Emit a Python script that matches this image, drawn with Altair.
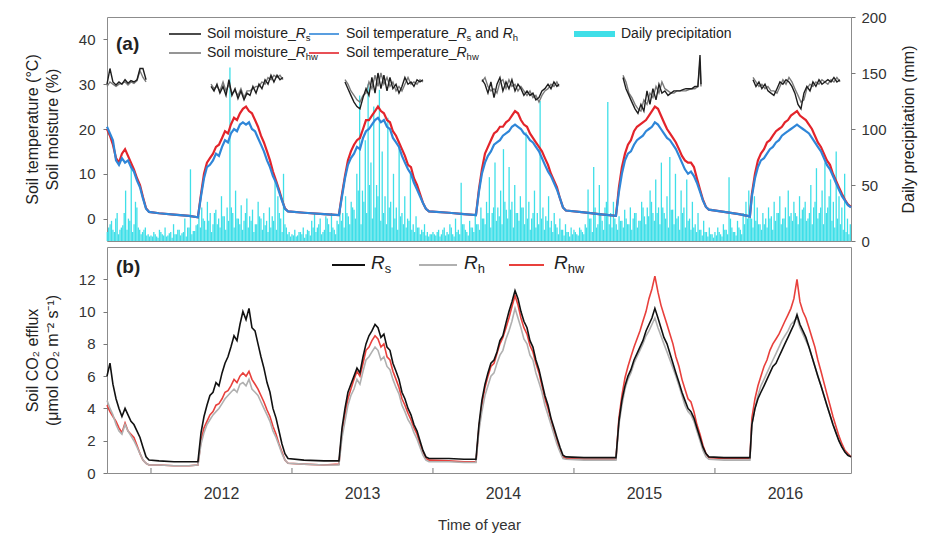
import altair as alt
import pandas as pd

FONT = "Liberation Sans"

# ---------------- data (decimal year) ----------------
temp_t = [
    2011.688, 2011.709, 2011.730, 2011.752, 2011.773, 2011.794, 2011.816, 2011.837, 2011.858, 2011.879,
    2011.901, 2011.922, 2011.943, 2011.965, 2011.986, 2012.057, 2012.163, 2012.270, 2012.333,
    2012.355, 2012.376, 2012.397, 2012.418, 2012.440, 2012.461, 2012.482, 2012.504, 2012.525, 2012.546,
    2012.567, 2012.589, 2012.610, 2012.631, 2012.652, 2012.674, 2012.695, 2012.716, 2012.738, 2012.759,
    2012.780, 2012.801, 2012.823, 2012.844, 2012.865, 2012.887, 2012.908, 2012.929, 2012.950, 2012.972,
    2013.085, 2013.227, 2013.333,
    2013.355, 2013.376, 2013.397, 2013.418, 2013.440, 2013.461, 2013.482, 2013.504, 2013.525, 2013.546,
    2013.567, 2013.589, 2013.610, 2013.631, 2013.652, 2013.674, 2013.695, 2013.716, 2013.738, 2013.759,
    2013.780, 2013.801, 2013.823, 2013.844, 2013.865, 2013.887, 2013.908, 2013.929, 2013.950, 2013.972,
    2014.113, 2014.220, 2014.305,
    2014.326, 2014.347, 2014.369, 2014.390, 2014.411, 2014.433, 2014.454, 2014.475, 2014.496, 2014.518,
    2014.539, 2014.560, 2014.582, 2014.603, 2014.624, 2014.645, 2014.667, 2014.688, 2014.709, 2014.730,
    2014.752, 2014.773, 2014.794, 2014.816, 2014.837, 2014.858, 2014.879, 2014.901, 2014.922, 2014.943,
    2015.071, 2015.177, 2015.298,
    2015.319, 2015.340, 2015.362, 2015.383, 2015.404, 2015.426, 2015.447, 2015.468, 2015.489, 2015.511,
    2015.532, 2015.553, 2015.574, 2015.596, 2015.617, 2015.638, 2015.660, 2015.681, 2015.702, 2015.723,
    2015.745, 2015.766, 2015.787, 2015.809, 2015.830, 2015.851, 2015.872, 2015.894, 2015.915, 2015.936,
    2015.957, 2016.064, 2016.170, 2016.248,
    2016.262, 2016.284, 2016.305, 2016.326, 2016.348, 2016.369, 2016.390, 2016.411, 2016.433, 2016.454,
    2016.475, 2016.496, 2016.518, 2016.539, 2016.560, 2016.582, 2016.603, 2016.624, 2016.645, 2016.667,
    2016.688, 2016.709, 2016.730, 2016.752, 2016.773, 2016.794, 2016.816, 2016.837, 2016.858, 2016.879,
    2016.901, 2016.922, 2016.943, 2016.965,
]

# Soil temperature_Rs and Rh (blue)
temp_rs = [
    20.5, 19, 17.5, 13, 12, 13.5, 12.5, 13, 11.5, 10.5, 8.5, 7, 4.5, 2.2, 1.5, 1.2, 0.9, 0.6, 0.3,
    5, 9, 11.5, 12, 13, 14.5, 14, 16, 17.5, 17, 19, 20, 19.5, 21, 21.5, 21, 21.5, 20, 19.5, 18,
    16.5, 15, 13, 11.5, 9.5, 8, 6, 4, 2.2, 1.6, 1.3, 1.0, 0.8,
    5, 9, 12, 13.5, 14.5, 16, 15.5, 18, 19.5, 20, 21, 22, 22.5, 21.5, 22, 20.5, 20, 18, 17, 16,
    14, 12.5, 11, 10, 8, 6.5, 5, 3.5, 2.2, 1.6, 1.3, 1.0, 0.8,
    6, 10, 12.5, 14, 15, 16.5, 17, 17.5, 18.5, 19, 19.5, 20.5, 21, 20.5, 20, 19, 18.5, 17.5, 17, 16,
    15, 13.5, 12, 10.5, 9.5, 8, 6.5, 4.5, 2.5, 1.8, 1.4, 1.0, 0.6,
    6, 10, 13, 14.5, 15, 16.5, 17.5, 18, 18.5, 19.5, 20, 20.5, 21.5, 21, 20, 19, 18, 17.5, 16.5, 15.5,
    14, 12.5, 11, 10, 10.5, 9.5, 8, 6, 4, 2.6, 2.0, 1.5, 1.0, 0.5,
    5, 9, 11.5, 13, 13.5, 14.5, 15.5, 16, 17, 17.5, 18.5, 19, 19.5, 20, 20.5, 21, 20.5, 20, 19.5, 19,
    18, 17, 16, 15, 13.5, 12, 11, 9.5, 8, 6.5, 5, 4, 3, 2.5,
]
# Soil temperature_Rhw (red)
temp_rhw = [
    20, 18.5, 16.5, 13.5, 12.5, 14.5, 15.5, 14, 12.5, 11, 9, 7.5, 4.8, 2.3, 1.5, 1.2, 0.9, 0.6, 0.3,
    5.5, 10, 12.5, 13.5, 14.5, 16, 16.5, 18, 19.5, 19, 21, 22.5, 22, 23.5, 24.5, 25, 24, 23.5, 22, 20.5,
    18.5, 17, 15, 13, 10.5, 8.5, 6.5, 4.2, 2.3, 1.6, 1.3, 1.0, 0.8,
    5.5, 9.5, 13, 15, 16.5, 17.5, 18, 20, 22, 22, 23, 24, 25, 24, 23.5, 22, 21.5, 19.5, 18.5, 17,
    15.5, 14, 12, 11.5, 9, 7.5, 5.5, 3.5, 2.2, 1.6, 1.3, 1.0, 0.8,
    6.5, 11, 14.5, 16, 17.5, 19, 19.5, 20.5, 20.5, 21.5, 22, 23, 24, 23.5, 22, 21, 20.5, 19, 18, 17,
    16, 15, 13.5, 12, 10, 8.5, 7, 4.5, 2.5, 1.8, 1.4, 1.0, 0.6,
    7, 11.5, 14.5, 16.5, 17.5, 19.5, 20.5, 21, 21.5, 22, 23, 24, 25, 24.5, 23, 21.5, 20, 19, 18, 17,
    15.5, 14, 13, 12.5, 12.5, 11.5, 9, 6.5, 4.2, 2.6, 2.0, 1.5, 1.0, 0.5,
    5.5, 10, 13, 14.5, 15.5, 17, 17.5, 18.5, 19.5, 20, 20.5, 21.5, 22, 23, 23.5, 24, 23, 22.5, 22, 21,
    20, 18.5, 17, 16, 14.5, 13, 12, 10, 8.5, 7, 5.5, 4.2, 3.2, 2.6,
]

# Soil CO2 efflux (same dates)
flux_rs = [
    6.0, 6.8, 5.5, 4.6, 4.0, 3.5, 4.0, 3.6, 3.2, 3.0, 2.6, 2.2, 1.6, 1.0, 0.8, 0.75, 0.7, 0.7, 0.7,
    2.5, 3.5, 4.2, 4.8, 5.0, 5.6, 5.4, 6.2, 6.8, 7.2, 7.8, 8.5, 8.2, 9.2, 10.0, 9.5, 10.2, 9.0, 8.8, 8.0,
    7.2, 6.5, 5.6, 5.0, 4.0, 3.4, 2.6, 1.8, 1.2, 0.9, 0.8, 0.75, 0.75,
    2.8, 4.0, 5.0, 5.5, 6.0, 6.5, 6.2, 7.2, 8.0, 8.5, 8.8, 9.2, 9.0, 8.4, 8.6, 7.8, 7.6, 6.8, 6.3, 5.8,
    5.0, 4.6, 4.0, 3.6, 3.0, 2.6, 2.0, 1.4, 1.0, 0.9, 0.9, 0.85, 0.85,
    3.0, 4.5, 5.5, 6.2, 6.8, 7.0, 7.5, 8.2, 8.5, 9.3, 10.0, 10.6, 11.3, 10.8, 10.0, 9.4, 9.0, 8.2, 7.8, 7.0,
    6.4, 5.6, 4.8, 4.2, 3.4, 2.8, 2.2, 1.6, 1.1, 1.0, 0.95, 0.95, 0.95,
    3.2, 4.5, 5.4, 6.0, 6.4, 7.0, 7.4, 7.8, 8.2, 8.8, 9.2, 9.6, 10.2, 9.6, 9.0, 8.4, 8.0, 7.4, 6.8, 6.2,
    5.6, 5.0, 4.5, 4.0, 3.8, 3.4, 2.8, 2.2, 1.6, 1.2, 1.0, 0.95, 0.95, 0.95,
    3.0, 4.0, 4.6, 5.0, 5.4, 5.8, 6.2, 6.6, 6.8, 7.2, 7.6, 8.0, 8.4, 8.8, 9.2, 9.8, 9.2, 8.8, 8.4, 7.8,
    7.2, 6.6, 6.0, 5.4, 4.8, 4.2, 3.6, 3.0, 2.5, 2.0, 1.6, 1.3, 1.1, 1.0,
]
flux_rh = [
    4.5, 4.0, 3.6, 3.0, 2.6, 2.4, 3.0, 2.6, 2.3, 2.0, 1.6, 1.2, 0.8, 0.6, 0.5, 0.5, 0.45, 0.45, 0.5,
    1.8, 2.5, 3.0, 3.3, 3.6, 3.8, 4.0, 4.3, 4.6, 4.8, 5.0, 5.2, 5.0, 5.5, 5.6, 5.4, 5.8, 5.2, 5.0, 4.8,
    4.4, 4.0, 3.6, 3.2, 2.6, 2.2, 1.7, 1.2, 0.8, 0.6, 0.55, 0.5, 0.5,
    2.2, 3.2, 4.2, 4.8, 5.2, 5.8, 5.5, 6.3, 7.0, 7.2, 7.5, 7.8, 7.6, 7.0, 7.2, 6.6, 6.4, 5.8, 5.3, 4.9,
    4.2, 3.8, 3.3, 3.0, 2.5, 2.1, 1.6, 1.1, 0.8, 0.7, 0.7, 0.65, 0.65,
    2.6, 3.8, 4.8, 5.4, 6.0, 6.2, 6.8, 7.3, 7.6, 8.3, 8.8, 9.4, 10.2, 9.6, 9.0, 8.3, 8.0, 7.3, 7.0, 6.2,
    5.6, 5.0, 4.2, 3.6, 3.0, 2.4, 1.8, 1.3, 0.9, 0.85, 0.8, 0.8, 0.8,
    3.0, 4.2, 5.2, 5.8, 6.2, 6.8, 7.2, 7.6, 8.0, 8.5, 8.8, 9.2, 9.6, 9.0, 8.5, 8.0, 7.5, 7.0, 6.5, 6.0,
    5.4, 4.8, 4.2, 3.8, 3.6, 3.2, 2.6, 2.0, 1.4, 1.0, 0.85, 0.8, 0.8, 0.8,
    3.0, 4.0, 4.8, 5.4, 5.8, 6.2, 6.6, 7.0, 7.4, 7.8, 8.2, 8.5, 8.8, 9.2, 9.4, 9.6, 9.0, 8.6, 8.2, 7.8,
    7.2, 6.6, 6.0, 5.4, 4.8, 4.2, 3.6, 3.0, 2.5, 2.0, 1.6, 1.3, 1.1, 1.0,
]
flux_rhw = [
    4.2, 3.8, 3.5, 3.2, 2.8, 2.5, 3.1, 2.6, 2.4, 2.2, 1.7, 1.2, 0.8, 0.6, 0.5, 0.5, 0.45, 0.45, 0.5,
    2.0, 2.8, 3.2, 3.6, 3.8, 4.2, 4.3, 4.6, 5.0, 5.1, 5.4, 5.8, 5.6, 6.0, 6.2, 6.0, 6.3, 5.8, 5.5, 5.2,
    4.8, 4.4, 3.9, 3.5, 2.9, 2.4, 1.8, 1.3, 0.8, 0.6, 0.55, 0.5, 0.55,
    2.5, 3.6, 4.6, 5.2, 5.8, 6.3, 6.0, 6.8, 7.6, 7.8, 8.2, 8.5, 8.3, 7.8, 8.0, 7.2, 7.0, 6.3, 5.8, 5.3,
    4.6, 4.2, 3.7, 3.3, 2.8, 2.4, 1.8, 1.3, 0.9, 0.8, 0.75, 0.7, 0.7,
    2.8, 4.2, 5.3, 6.0, 6.6, 6.8, 7.4, 8.0, 8.4, 9.0, 9.6, 10.3, 11.0, 10.4, 9.6, 9.0, 8.6, 7.9, 7.5, 6.8,
    6.2, 5.4, 4.6, 4.0, 3.3, 2.6, 2.0, 1.4, 1.0, 0.9, 0.85, 0.85, 0.85,
    3.4, 4.8, 5.9, 6.6, 7.2, 7.8, 8.3, 8.8, 9.4, 10.0, 10.8, 11.4, 12.2, 11.2, 10.4, 9.8, 9.2, 8.6, 8.0, 7.2,
    6.6, 5.8, 5.2, 4.6, 4.4, 3.8, 3.0, 2.4, 1.7, 1.2, 0.95, 0.9, 0.9, 0.9,
    3.4, 4.6, 5.4, 6.0, 6.6, 7.0, 7.6, 8.0, 8.3, 8.6, 9.0, 9.4, 9.8, 10.2, 10.8, 12.0, 10.6, 10.0, 9.6, 9.0,
    8.4, 7.8, 7.0, 6.3, 5.6, 4.9, 4.2, 3.5, 2.9, 2.3, 1.8, 1.4, 1.2, 1.0,
]

# Soil moisture, growing-season segments
moist_t = [
    [2011.688, 2011.709, 2011.730, 2011.752, 2011.773, 2011.794, 2011.816, 2011.837, 2011.858, 2011.879,
     2011.901, 2011.922, 2011.943, 2011.965],
    [2012.426, 2012.447, 2012.468, 2012.489, 2012.511, 2012.532, 2012.553, 2012.574, 2012.596, 2012.617,
     2012.638, 2012.660, 2012.681, 2012.702, 2012.723, 2012.745, 2012.766, 2012.787, 2012.809, 2012.830,
     2012.851, 2012.872, 2012.894, 2012.915, 2012.936],
    [2013.376, 2013.397, 2013.418, 2013.440, 2013.461, 2013.482, 2013.504, 2013.525, 2013.546, 2013.567,
     2013.589, 2013.610, 2013.631, 2013.652, 2013.674, 2013.695, 2013.716, 2013.738, 2013.759, 2013.780,
     2013.801, 2013.823, 2013.844, 2013.865, 2013.887, 2013.908, 2013.929],
    [2014.348, 2014.369, 2014.390, 2014.411, 2014.433, 2014.454, 2014.475, 2014.496, 2014.518, 2014.539,
     2014.560, 2014.582, 2014.603, 2014.624, 2014.645, 2014.667, 2014.688, 2014.709, 2014.730, 2014.752,
     2014.773, 2014.794, 2014.816, 2014.837, 2014.858, 2014.879, 2014.894],
    [2015.348, 2015.369, 2015.390, 2015.411, 2015.433, 2015.454, 2015.475, 2015.496, 2015.518, 2015.539,
     2015.560, 2015.582, 2015.603, 2015.624, 2015.645, 2015.667, 2015.688, 2015.709, 2015.730, 2015.752,
     2015.773, 2015.794, 2015.816, 2015.837, 2015.858, 2015.879, 2015.894, 2015.901],
    [2016.270, 2016.291, 2016.312, 2016.333, 2016.355, 2016.376, 2016.397, 2016.418, 2016.440, 2016.461,
     2016.482, 2016.504, 2016.525, 2016.546, 2016.567, 2016.589, 2016.610, 2016.631, 2016.652, 2016.674,
     2016.695, 2016.716, 2016.738, 2016.759, 2016.780, 2016.801, 2016.823, 2016.844, 2016.865, 2016.887],
]
moist_rs = [
    [30.0, 33.5, 30.5, 29.8, 30.5, 30.0, 31.0, 30.2, 30.8, 30.5, 31.0, 33.5, 33.5, 31.0],
    [29.5, 28.5, 30.0, 28.0, 29.5, 27.5, 31.0, 27.5, 29.0, 26.8, 28.5, 26.5, 28.0, 27.5, 29.5, 28.0,
     30.0, 29.0, 31.0, 30.0, 32.0, 30.5, 32.0, 31.0, 31.5],
    [30.5, 29.0, 27.5, 26.0, 25.0, 24.5, 27.0, 29.0, 27.5, 31.5, 28.0, 32.5, 29.0, 32.0, 28.5, 31.5,
     29.0, 30.0, 28.0, 29.5, 31.5, 30.0, 30.5, 29.5, 31.0, 30.5, 31.0],
    [31.0, 30.0, 28.0, 30.5, 27.0, 30.0, 31.5, 28.5, 30.5, 29.0, 31.0, 28.5, 30.0, 29.0, 27.5, 28.5,
     27.5, 28.0, 26.5, 27.0, 28.5, 29.0, 30.0, 29.0, 30.5, 29.5, 30.0],
    [31.5, 29.0, 27.5, 26.0, 24.5, 23.5, 25.5, 24.0, 28.5, 25.5, 29.0, 26.5, 30.0, 28.0, 28.5, 27.5,
     28.0, 28.5, 28.5, 28.5, 28.8, 29.0, 29.0, 29.0, 29.5, 29.5, 36.5, 30.0],
    [31.0, 29.5, 30.5, 29.0, 30.0, 28.5, 28.0, 27.5, 29.0, 30.5, 30.0, 31.0, 30.5, 29.5, 28.0, 25.5,
     24.5, 28.0, 29.5, 28.5, 30.5, 29.5, 31.0, 30.0, 30.5, 31.0, 30.5, 31.5, 30.5, 31.0],
]
moist_rhw = [
    [29.5, 30.5, 30.0, 29.5, 30.0, 30.2, 30.5, 29.8, 30.5, 30.2, 30.8, 33.0, 31.5, 30.5],
    [30.0, 29.0, 29.5, 28.5, 30.5, 28.5, 30.0, 28.0, 28.5, 27.5, 29.0, 27.0, 28.5, 28.5, 29.0, 29.5,
     29.5, 30.5, 30.0, 31.5, 31.0, 32.0, 31.5, 32.0, 31.0],
    [31.0, 30.0, 28.5, 27.5, 26.5, 26.0, 27.5, 28.0, 30.5, 29.0, 32.0, 29.5, 32.5, 30.0, 31.5, 29.5,
     30.5, 28.5, 29.5, 28.5, 30.0, 31.5, 30.0, 30.5, 30.0, 31.0, 30.5],
    [30.5, 31.5, 29.5, 28.5, 29.0, 28.0, 30.5, 31.0, 29.0, 31.0, 29.5, 30.0, 28.5, 29.5, 28.5, 27.5,
     28.5, 27.0, 27.5, 26.0, 27.5, 28.5, 29.0, 30.0, 29.5, 30.5, 29.5],
    [32.0, 30.5, 28.0, 27.0, 25.5, 24.5, 24.0, 26.5, 25.5, 28.0, 27.0, 29.5, 28.0, 30.5, 29.0, 28.5,
     28.0, 28.0, 28.5, 28.5, 28.5, 28.5, 28.8, 29.0, 29.0, 29.5, 35.0, 29.5],
    [31.5, 30.5, 29.5, 30.0, 29.0, 29.5, 28.5, 28.5, 28.0, 29.5, 31.0, 30.0, 31.5, 30.5, 29.0, 27.5,
     26.0, 26.5, 29.0, 30.0, 29.5, 30.5, 30.0, 31.0, 30.5, 30.0, 31.0, 30.5, 31.5, 30.5],
]

# Daily precipitation (mm), sampled days (two interleaved sets of days)
precip_t = [
    2011.70, 2011.72, 2011.74, 2011.76, 2011.78, 2011.80, 2011.82, 2011.84, 2011.86, 2011.88,
    2011.90, 2011.92, 2011.94, 2011.96, 2011.98,
    2012.00, 2012.02, 2012.04, 2012.06, 2012.08, 2012.10, 2012.12, 2012.14, 2012.16, 2012.18,
    2012.20, 2012.22, 2012.24, 2012.26, 2012.28, 2012.30, 2012.32, 2012.34, 2012.36, 2012.38,
    2012.40, 2012.42, 2012.44, 2012.46, 2012.48, 2012.50, 2012.52, 2012.54, 2012.56, 2012.58,
    2012.60, 2012.62, 2012.64, 2012.66, 2012.68, 2012.70, 2012.72, 2012.74, 2012.76, 2012.78,
    2012.80, 2012.82, 2012.84, 2012.86, 2012.88, 2012.90, 2012.92, 2012.94, 2012.96, 2012.98,
    2013.00, 2013.02, 2013.04, 2013.06, 2013.08, 2013.10, 2013.12, 2013.14, 2013.16, 2013.18,
    2013.20, 2013.22, 2013.24, 2013.26, 2013.28, 2013.30, 2013.32, 2013.34, 2013.36, 2013.38,
    2013.40, 2013.42, 2013.44, 2013.46, 2013.48, 2013.50, 2013.52, 2013.54, 2013.56, 2013.58,
    2013.60, 2013.62, 2013.64, 2013.66, 2013.68, 2013.70, 2013.72, 2013.74, 2013.76, 2013.78,
    2013.80, 2013.82, 2013.84, 2013.86, 2013.88, 2013.90, 2013.92, 2013.94, 2013.96, 2013.98,
    2014.00, 2014.02, 2014.04, 2014.06, 2014.08, 2014.10, 2014.12, 2014.14, 2014.16, 2014.18,
    2014.20, 2014.22, 2014.24, 2014.26, 2014.28, 2014.30, 2014.32, 2014.34, 2014.36, 2014.38,
    2014.40, 2014.42, 2014.44, 2014.46, 2014.48, 2014.50, 2014.52, 2014.54, 2014.56, 2014.58,
    2014.60, 2014.62, 2014.64, 2014.66, 2014.68, 2014.70, 2014.72, 2014.74, 2014.76, 2014.78,
    2014.80, 2014.82, 2014.84, 2014.86, 2014.88, 2014.90, 2014.92, 2014.94, 2014.96, 2014.98,
    2015.00, 2015.02, 2015.04, 2015.06, 2015.08, 2015.10, 2015.12, 2015.14, 2015.16, 2015.18,
    2015.20, 2015.22, 2015.24, 2015.26, 2015.28, 2015.30, 2015.32, 2015.34, 2015.36, 2015.38,
    2015.40, 2015.42, 2015.44, 2015.46, 2015.48, 2015.50, 2015.52, 2015.54, 2015.56, 2015.58,
    2015.60, 2015.62, 2015.64, 2015.66, 2015.68, 2015.70, 2015.72, 2015.74, 2015.76, 2015.78,
    2015.80, 2015.82, 2015.84, 2015.86, 2015.88, 2015.90, 2015.92, 2015.94, 2015.96, 2015.98,
    2016.00, 2016.02, 2016.04, 2016.06, 2016.08, 2016.10, 2016.12, 2016.14, 2016.16, 2016.18,
    2016.20, 2016.22, 2016.24, 2016.26, 2016.28, 2016.30, 2016.32, 2016.34, 2016.36, 2016.38,
    2016.40, 2016.42, 2016.44, 2016.46, 2016.48, 2016.50, 2016.52, 2016.54, 2016.56, 2016.58,
    2016.60, 2016.62, 2016.64, 2016.66, 2016.68, 2016.70, 2016.72, 2016.74, 2016.76, 2016.78,
    2016.80, 2016.82, 2016.84, 2016.86, 2016.88, 2016.90, 2016.92, 2016.94, 2016.96,
]
precip_mm = [
    12, 18, 8, 25, 10, 14, 45, 20, 70, 15, 30, 10, 8, 12, 6,
    5, 8, 4, 10, 6, 12, 5, 8, 15, 6, 10, 7, 20, 12, 64, 9, 14, 22, 30, 18,
    35, 25, 15, 28, 20, 40, 22, 30, 155, 25, 45, 20, 32, 18, 38, 22, 28, 15, 35, 20,
    25, 18, 30, 22, 55, 40, 20, 60, 12, 8,
    6, 10, 5, 8, 12, 6, 9, 18, 25, 12, 20, 8, 22, 15, 25, 10, 18, 30, 25, 40,
    22, 35, 28, 60, 130, 45, 90, 140, 70, 120, 50, 135, 80, 40, 110, 35, 60, 30, 85, 25,
    40, 20, 60, 15, 22, 12, 10, 15, 8, 6,
    8, 5, 10, 6, 12, 8, 15, 6, 20, 10, 52, 15, 8, 18, 12, 25, 15, 30, 20, 35,
    57, 25, 70, 30, 45, 82, 28, 66, 35, 50, 25, 40, 30, 97, 35, 20, 45, 25, 125, 30,
    22, 40, 18, 25, 12, 20, 10, 15, 8, 12,
    10, 6, 12, 8, 15, 46, 20, 66, 12, 50, 18, 30, 124, 25, 35, 15, 22, 18, 28, 15,
    30, 20, 25, 18, 35, 22, 30, 45, 25, 55, 30, 70, 25, 40, 75, 28, 60, 22, 45, 30,
    55, 20, 35, 15, 25, 10, 18, 8, 12, 6,
    8, 12, 6, 15, 10, 57, 12, 8, 18, 10, 25, 35, 45, 20, 40, 30, 15, 25, 20, 30,
    22, 35, 25, 40, 20, 30, 45, 25, 35, 22, 40, 28, 35, 20, 50, 30, 65, 25, 45, 70,
    30, 55, 35, 80, 40, 30, 60, 20, 15,
]
precip_t2 = [
    2011.69, 2011.71, 2011.73, 2011.75, 2011.77, 2011.79, 2011.81, 2011.83, 2011.85, 2011.87,
    2011.89, 2011.91, 2011.93, 2011.95, 2011.97, 2011.99,
    2012.01, 2012.03, 2012.05, 2012.07, 2012.09, 2012.11, 2012.13, 2012.15, 2012.17, 2012.19,
    2012.21, 2012.23, 2012.25, 2012.27, 2012.29, 2012.31, 2012.33, 2012.35, 2012.37, 2012.39,
    2012.41, 2012.43, 2012.45, 2012.47, 2012.49, 2012.51, 2012.53, 2012.55, 2012.57, 2012.59,
    2012.61, 2012.63, 2012.65, 2012.67, 2012.69, 2012.71, 2012.73, 2012.75, 2012.77, 2012.79,
    2012.81, 2012.83, 2012.85, 2012.87, 2012.89, 2012.91, 2012.93, 2012.95, 2012.97, 2012.99,
    2013.01, 2013.03, 2013.05, 2013.07, 2013.09, 2013.11, 2013.13, 2013.15, 2013.17, 2013.19,
    2013.21, 2013.23, 2013.25, 2013.27, 2013.29, 2013.31, 2013.33, 2013.35, 2013.37, 2013.39,
    2013.41, 2013.43, 2013.45, 2013.47, 2013.49, 2013.51, 2013.53, 2013.55, 2013.57, 2013.59,
    2013.61, 2013.63, 2013.65, 2013.67, 2013.69, 2013.71, 2013.73, 2013.75, 2013.77, 2013.79,
    2013.81, 2013.83, 2013.85, 2013.87, 2013.89, 2013.91, 2013.93, 2013.95, 2013.97, 2013.99,
    2014.01, 2014.03, 2014.05, 2014.07, 2014.09, 2014.11, 2014.13, 2014.15, 2014.17, 2014.19,
    2014.21, 2014.23, 2014.25, 2014.27, 2014.29, 2014.31, 2014.33, 2014.35, 2014.37, 2014.39,
    2014.41, 2014.43, 2014.45, 2014.47, 2014.49, 2014.51, 2014.53, 2014.55, 2014.57, 2014.59,
    2014.61, 2014.63, 2014.65, 2014.67, 2014.69, 2014.71, 2014.73, 2014.75, 2014.77, 2014.79,
    2014.81, 2014.83, 2014.85, 2014.87, 2014.89, 2014.91, 2014.93, 2014.95, 2014.97, 2014.99,
    2015.01, 2015.03, 2015.05, 2015.07, 2015.09, 2015.11, 2015.13, 2015.15, 2015.17, 2015.19,
    2015.21, 2015.23, 2015.25, 2015.27, 2015.29, 2015.31, 2015.33, 2015.35, 2015.37, 2015.39,
    2015.41, 2015.43, 2015.45, 2015.47, 2015.49, 2015.51, 2015.53, 2015.55, 2015.57, 2015.59,
    2015.61, 2015.63, 2015.65, 2015.67, 2015.69, 2015.71, 2015.73, 2015.75, 2015.77, 2015.79,
    2015.81, 2015.83, 2015.85, 2015.87, 2015.89, 2015.91, 2015.93, 2015.95, 2015.97, 2015.99,
    2016.01, 2016.03, 2016.05, 2016.07, 2016.09, 2016.11, 2016.13, 2016.15, 2016.17, 2016.19,
    2016.21, 2016.23, 2016.25, 2016.27, 2016.29, 2016.31, 2016.33, 2016.35, 2016.37, 2016.39,
    2016.41, 2016.43, 2016.45, 2016.47, 2016.49, 2016.51, 2016.53, 2016.55, 2016.57, 2016.59,
    2016.61, 2016.63, 2016.65, 2016.67, 2016.69, 2016.71, 2016.73, 2016.75, 2016.77, 2016.79,
    2016.81, 2016.83, 2016.85, 2016.87, 2016.89, 2016.91, 2016.93, 2016.95,
]
precip_mm2 = [
    8, 15, 10, 20, 6, 12, 25, 10, 18, 8, 35, 12, 6, 10, 5, 4,
    4, 6, 3, 8, 5, 4, 7, 3, 6, 10, 5, 8, 4, 12, 6, 9, 15,
    12, 20, 10, 18, 8, 25, 15, 12, 22, 10, 18, 30, 12, 20, 15, 10, 25, 12, 18, 8, 15, 22, 10, 14, 8,
    12, 18, 10, 25, 8, 15, 6, 4,
    5, 4, 8, 6, 3, 10, 5, 12, 8, 15, 6, 10, 20, 8, 12, 6, 15,
    18, 12, 25, 15, 30, 20, 45, 15, 35, 25, 50, 20, 30, 40, 18, 25, 15, 30, 12, 20, 10, 22, 15, 12, 18,
    10, 8, 12, 6, 8, 5, 4, 6,
    6, 8, 4, 10, 5, 6, 12, 4, 8, 6, 15, 10, 5, 12, 8, 15, 10,
    20, 15, 25, 12, 30, 18, 22, 15, 35, 20, 28, 12, 25, 18, 30, 15, 20, 10, 25, 12, 15, 20, 10, 18, 12,
    8, 15, 6, 10, 5, 8, 4, 6,
    8, 5, 10, 6, 12, 20, 8, 30, 15, 25, 10, 35, 15, 12, 20, 10, 18,
    12, 20, 15, 10, 25, 12, 18, 30, 15, 22, 35, 18, 25, 15, 30, 20, 12, 28, 15, 20, 10, 25, 12, 18, 10,
    12, 8, 10, 5, 8, 4, 6, 3,
    5, 8, 4, 10, 6, 20, 8, 5, 12, 6, 15, 20, 25, 12, 18, 15, 10,
    15, 12, 20, 10, 18, 25, 15, 20, 12, 22, 18, 25, 15, 20, 30, 18, 25, 15, 35, 20, 30, 15, 25, 40, 18,
    12, 20, 15, 10, 8, 6,
]

year_ticks = [2012, 2013, 2014, 2015, 2016]

assert len(temp_t) == len(temp_rs) == len(temp_rhw) == len(flux_rs) == len(flux_rh) == len(flux_rhw), (
    len(temp_t), len(temp_rs), len(temp_rhw), len(flux_rs), len(flux_rh), len(flux_rhw))
assert len(precip_t) == len(precip_mm), (len(precip_t), len(precip_mm))
assert len(precip_t2) == len(precip_mm2), (len(precip_t2), len(precip_mm2))
for a, b, c in zip(moist_t, moist_rs, moist_rhw):
    assert len(a) == len(b) == len(c), (len(a), len(b), len(c))

# ---------------- frames ----------------
df_line = pd.DataFrame({"t": temp_t, "temp_rs": temp_rs, "temp_rhw": temp_rhw,
                        "flux_rs": flux_rs, "flux_rh": flux_rh, "flux_rhw": flux_rhw})
rows = []
for i, (ts, a, b) in enumerate(zip(moist_t, moist_rs, moist_rhw)):
    for t, va, vb in zip(ts, a, b):
        rows.append({"t": t, "m_rs": va, "m_rhw": vb, "seg": i})
df_moist = pd.DataFrame(rows)
df_precip = pd.DataFrame({"t": precip_t + precip_t2, "mm": precip_mm + precip_mm2})
df_ticks = pd.DataFrame({"t": year_ticks})

W, H1, H2 = 744, 224, 226
xs = alt.Scale(domain=[2011.688, 2016.965], nice=False, zero=False)

# ---------------- text width helper for manual legends ----------------
AW = {'S': 667, 'o': 556, 'i': 222, 'l': 222, ' ': 278, 'm': 833, 's': 500, 't': 278, 'u': 556,
      'r': 333, 'e': 556, '_': 556, 'p': 556, 'a': 556, 'n': 556, 'd': 556, 'D': 722, 'y': 500,
      'c': 500, 'h': 556, 'w': 722, 'R': 722}


def tw(s, size):
    return sum(AW.get(ch, 556) for ch in s) * size / 1000.0


ANCHOR = pd.DataFrame({"a": [0]})


def pieces_layers(pieces, x0, y0, size, color="#222222"):
    out = []
    x = x0
    for txt, style in pieces:
        if style == "gap":
            x += txt
            continue
        fs = size * 0.68 if style == "sub" else size
        dy = size * 0.32 if style == "sub" else 0
        out.append(
            alt.Chart(ANCHOR).mark_text(
                text=txt, align="left", baseline="middle", font=FONT, fontSize=fs,
                fontStyle="italic" if style == "i" else "normal", color=color,
            ).encode(x=alt.value(x), y=alt.value(y0 + dy))
        )
        x += tw(txt, fs)
    return out


def swatch_line(x1, x2, y, color, width=1.6):
    return alt.Chart(ANCHOR).mark_rule(color=color, strokeWidth=width).encode(
        x=alt.value(x1), x2=alt.value(x2), y=alt.value(y))


# ---------------- top panel ----------------
y_left = alt.Scale(domain=[-5, 45], nice=False, zero=False)
y_right = alt.Scale(domain=[0, 200], nice=False)
ax_left = alt.Axis(values=[0, 10, 20, 30, 40], title=["Soil temperature (\u00b0C)", "Soil moisture (%)"],
                   grid=False, domain=False, tickSize=4, tickColor="#777", labelPadding=8,
                   labelFontSize=15, titleFontSize=16, titleFontWeight="normal", titlePadding=18,
                   titleLineHeight=20, labelColor="#333", titleColor="#222", labelFont=FONT, titleFont=FONT)
ax_right = alt.Axis(orient="right", values=[0, 50, 100, 150, 200], title="Daily precipitation (mm)",
                    grid=False, domain=False, tickSize=4, tickColor="#777", labelPadding=6,
                    labelFontSize=15, titleFontSize=16, titleFontWeight="normal", titlePadding=14,
                    titleAngle=270, titleBaseline="top", labelColor="#333", titleColor="#222",
                    labelFont=FONT, titleFont=FONT)

precip = alt.Chart(df_precip).mark_rule(color="#3fdfe8", strokeWidth=1.3).encode(
    x=alt.X("t:Q", scale=xs, axis=None),
    y=alt.Y("mm:Q", scale=y_right, axis=ax_right),
    y2=alt.datum(0),
)


def tline(field, color, width, df=df_line, detail=None):
    enc = dict(x=alt.X("t:Q", scale=xs, axis=None),
               y=alt.Y(f"{field}:Q", scale=y_left, axis=ax_left))
    if detail:
        enc["detail"] = alt.Detail(f"{detail}:N")
    return alt.Chart(df).mark_line(color=color, strokeWidth=width).encode(**enc)


left_group = alt.layer(
    tline("temp_rhw", "#e3242b", 2.2),
    tline("temp_rs", "#2f86d8", 2.2),
    tline("m_rhw", "#7a7a7a", 1.4, df=df_moist, detail="seg"),
    tline("m_rs", "#1e1e1e", 1.4, df=df_moist, detail="seg"),
)

leg_a = [
    alt.Chart(ANCHOR).mark_text(text="(a)", align="left", baseline="middle", font=FONT, fontSize=19,
                                fontWeight="bold", color="#222").encode(x=alt.value(9), y=alt.value(27)),
    swatch_line(62, 94, 17, "#1e1e1e"),
    swatch_line(62, 94, 36, "#7a7a7a"),
    swatch_line(202, 232, 17, "#2f86d8"),
    swatch_line(202, 232, 36, "#e3242b"),
    alt.Chart(ANCHOR).mark_rect(color="#3fdfe8").encode(
        x=alt.value(467), x2=alt.value(508), y=alt.value(14), y2=alt.value(20)),
]
leg_a += pieces_layers([("Soil moisture_", "n"), ("R", "i"), ("s", "sub")], 100, 17, 14)
leg_a += pieces_layers([("Soil moisture_", "n"), ("R", "i"), ("hw", "sub")], 100, 36, 14)
leg_a += pieces_layers([("Soil temperature_", "n"), ("R", "i"), ("s", "sub"), (4, "gap"), ("and", "n"),
                        (4, "gap"), ("R", "i"), ("h", "sub")], 239, 17, 14)
leg_a += pieces_layers([("Soil temperature_", "n"), ("R", "i"), ("hw", "sub")], 239, 36, 14)
leg_a += pieces_layers([("Daily precipitation", "n")], 514, 17, 14)

top = alt.layer(precip, left_group, *leg_a).resolve_scale(y="independent").properties(width=W, height=H1)

# ---------------- bottom panel ----------------
y_flux = alt.Scale(domain=[0, 14], nice=False)
ax_flux = alt.Axis(values=[0, 2, 4, 6, 8, 10, 12],
                   title=["Soil CO\u2082 efflux", "(\u03bcmol CO\u2082 m\u207b\u00b2 s\u207b\u00b9)"],
                   grid=False, domain=False, tickSize=4, tickColor="#777", labelPadding=8,
                   labelFontSize=15, titleFontSize=16, titleFontWeight="normal", titlePadding=18,
                   titleLineHeight=20, labelColor="#333", titleColor="#222", labelFont=FONT, titleFont=FONT)
ax_time = alt.Axis(values=year_ticks, format="d", labelOffset=70, ticks=False, domain=False, grid=False,
                   labelPadding=12, labelFontSize=16, labelColor="#333", labelFont=FONT,
                   title="Time of year", titleFontSize=15, titleFontWeight="normal", titleColor="#333",
                   titlePadding=16, titleFont=FONT)


def fline(field, color, width):
    return alt.Chart(df_line).mark_line(color=color, strokeWidth=width).encode(
        x=alt.X("t:Q", scale=xs, axis=ax_time),
        y=alt.Y(f"{field}:Q", scale=y_flux, axis=ax_flux),
    )


ticks_in = alt.Chart(df_ticks).mark_rule(color="#777", strokeWidth=1).encode(
    x=alt.X("t:Q", scale=xs, axis=ax_time), y=alt.value(H2), y2=alt.value(H2 - 5))

leg_b = [
    alt.Chart(ANCHOR).mark_text(text="(b)", align="left", baseline="middle", font=FONT, fontSize=19,
                                fontWeight="bold", color="#222").encode(x=alt.value(9), y=alt.value(20)),
    swatch_line(225, 258, 18, "#111111", 2.0),
    swatch_line(312, 350, 18, "#b0b0b0", 2.0),
    swatch_line(402, 437, 18, "#e8403c", 2.0),
]
leg_b += pieces_layers([("R", "i"), ("s", "sub")], 264, 16, 19)
leg_b += pieces_layers([("R", "i"), ("h", "sub")], 357, 16, 19)
leg_b += pieces_layers([("R", "i"), ("hw", "sub")], 447, 16, 19)

bottom = alt.layer(
    fline("flux_rhw", "#e8403c", 1.6),
    fline("flux_rh", "#b0b0b0", 1.6),
    fline("flux_rs", "#111111", 1.6),
    ticks_in,
    *leg_b,
).properties(width=W, height=H2)

chart = (
    alt.vconcat(top, bottom, spacing=6, bounds="flush")
    .properties(padding={"left": 23, "top": 9, "right": 4, "bottom": 2}, background="white")
    .configure_view(stroke="#8c8c8c", strokeWidth=1)
)

chart.save("out.html", embed_options={"renderer": "svg", "actions": False})
